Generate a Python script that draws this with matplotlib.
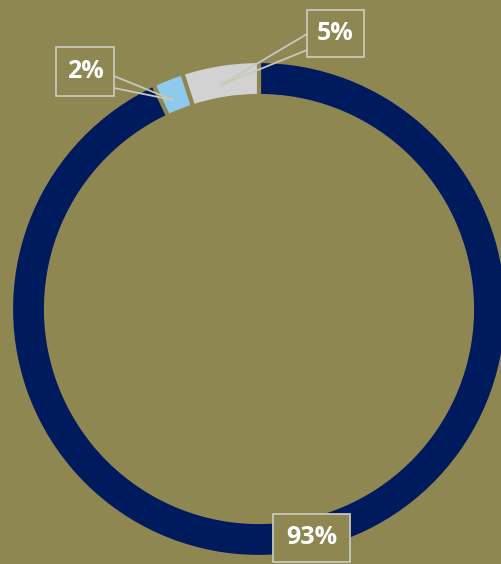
import matplotlib
matplotlib.use("Agg")
import matplotlib.pyplot as plt
from matplotlib.patches import Rectangle

# data
labels = ["93%", "2%", "5%"]
values = [93, 2, 5]
colors = ["#001a5e", "#8ec9ee", "#d2d2d2"]

bg = "#8f8752"
W, H = 502, 564

fig = plt.figure(figsize=(W / 100, H / 100), dpi=100, facecolor=bg)
ax = fig.add_axes([0, 0, 1, 1])
ax.set_facecolor(bg)

# donut, positioned in pixel units (y flipped so top of image is H)
# the bg-coloured edge eats ~2px, so radius/width are a bit larger
cx, cy, r = 259, H - 309, 248
ax.pie(values, colors=colors, startangle=90, counterclock=False,
       center=(cx, cy), radius=r,
       wedgeprops=dict(width=35, edgecolor=bg, linewidth=3))
ax.set_xlim(0, W)
ax.set_ylim(0, H)
ax.set_aspect("equal")
ax.axis("off")

box_col = "#c8c8bc"


def callout(text, x0, y0, x1, y1, tip=None, anchor=None):
    # box given in image pixel coords (top-left origin)
    ax.add_patch(Rectangle((x0, H - y1), x1 - x0, y1 - y0, facecolor=bg,
                           edgecolor=box_col, linewidth=1.3, zorder=5))
    if tip is not None:
        for a in anchor:
            ax.plot([a[0], tip[0]], [H - a[1], H - tip[1]], color=box_col,
                    linewidth=1.3, zorder=4)
    ax.text((x0 + x1) / 2, H - (y0 + y1) / 2, text, color="white",
            fontsize=18, fontweight="bold", family="Open Sans",
            ha="center", va="center", zorder=6)


callout("5%", 307, 10, 364, 57, tip=(221, 85), anchor=[(307, 34), (307, 50)])
callout("2%", 56, 47, 114, 96, tip=(173, 100), anchor=[(114, 76), (114, 88)])
callout("93%", 273, 514, 350, 562)

fig.savefig("out.png", dpi=100, facecolor=bg)
